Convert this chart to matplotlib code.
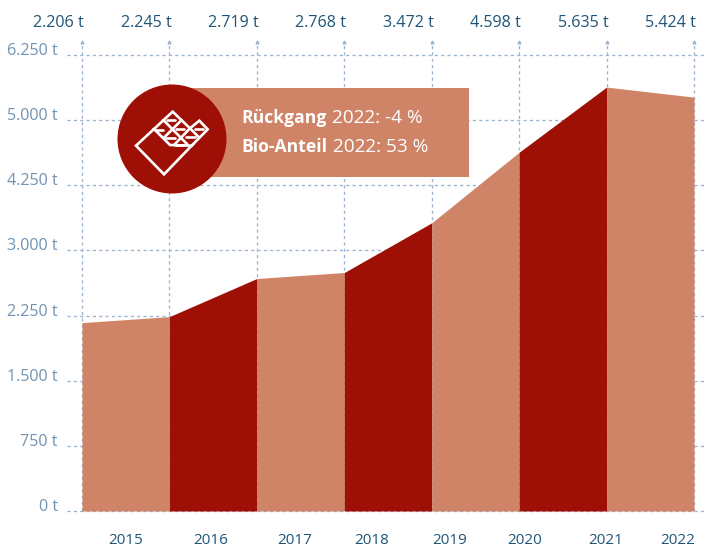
import numpy as np
import matplotlib
matplotlib.use("Agg")
import matplotlib.pyplot as plt
from matplotlib.patches import Circle, Rectangle
from matplotlib.transforms import ScaledTranslation

years = ["2015", "2016", "2017", "2018", "2019", "2020", "2021", "2022"]
top_labels = ["2.206 t", "2.245 t", "2.719 t", "2.768 t", "3.472 t", "4.598 t", "5.635 t", "5.424 t"]
plotted = [2169, 2238, 2677, 2746, 3530, 4631, 5635, 5442]
y_ticks = [0, 750, 1500, 2250, 3000, 4250, 5000, 6250]
y_labels = ["0 t", "750 t", "1.500 t", "2.250 t", "3.000 t", "4.250 t", "5.000 t", "6.250 t"]

LIGHT = "#CF8468"
DARK = "#9E1005"
GRID = "#9DB4CF"
TICKC = "#7093B3"
NAVY = "#1F5578"
FONT = "Open Sans"

W, H = 705, 552
fig = plt.figure(figsize=(W / 100, H / 100), dpi=100)
ax = fig.add_axes([0, 0, 1, 1])

# y axis: equally spaced ticks for unequal steps
knots = np.array(y_ticks + [7500], dtype=float)
idx = np.arange(len(knots), dtype=float)
ax.set_yscale("function", functions=(lambda v: np.interp(v, knots, idx),
                                     lambda u: np.interp(u, idx, knots)))

# axes box mapped to pixels: x index 0..7 -> 82..694, y ticks 511..55
L, R, B, T = 67, 705, 511, 42
ax.set_position([L / W, 1 - B / H, (R - L) / W, (B - T) / H])
ppu = (694 - 82) / 7
ax.set_xlim(-(82 - L) / ppu, 7 + (R - 694) / ppu)
ax.set_ylim(0, 6250 + 13 / 65 * 1250)
for s in ax.spines.values():
    s.set_visible(False)
ax.patch.set_alpha(0)

dash = (0, (2.4, 2.4))
x = np.arange(len(years))
for v in y_ticks:
    ax.axhline(v, color=GRID, lw=0.95, ls=dash, zorder=1, clip_on=False)
for xi in x:
    ax.axvline(xi, color=GRID, lw=0.95, ls=dash, zorder=1)
ax.plot(x, [ax.get_ylim()[1]] * len(x), ls="none", marker="^", ms=2.0, color=GRID, zorder=1, clip_on=False)

for i in range(len(x) - 1):
    ax.fill_between(x[i:i + 2], 0, plotted[i:i + 2], color=DARK if i % 2 else LIGHT, lw=0, zorder=2)

ax.set_xticks([])
ax.set_yticks(y_ticks)
ax.set_yticklabels(y_labels)
ax.minorticks_off()
ax.tick_params(axis="y", length=0, pad=6.5, labelsize=11.6, labelcolor=TICKC)
for t in ax.get_yticklabels():
    t.set_fontfamily(FONT)
    t.set_transform(t.get_transform() + ScaledTranslation(0, 6 / 72 * 0.72, fig.dpi_scale_trans))


def px(xp, yp):
    return xp / W, 1 - yp / H


for xi, lab in zip(x, top_labels):
    fx = (82 + xi * ppu + 2) / W
    fig.text(fx, 1 - 23 / H, lab, ha="right", va="center", color=NAVY, fontsize=11.6, family=FONT)

year_centres = [126, 211, 295, 372, 450, 525, 606, 678]
for c, lab in zip(year_centres, years):
    fig.text(*px(c, 541), lab, ha="center", va="center", color=NAVY, fontsize=11.0, family=FONT)

# info box on a full-figure overlay in pixel coordinates
ov = fig.add_axes([0, 0, 1, 1], zorder=5)
ov.set_xlim(0, W)
ov.set_ylim(H, 0)
ov.axis("off")
ov.add_patch(Rectangle((172, 88), 297, 89, color=LIGHT, lw=0))
ov.add_patch(Circle((172, 139), 54.5, color=DARK, lw=0))


def z(pts):
    a = np.array(pts, float)
    return 100 + a[:, 0] / 3, 75 + a[:, 1] / 3


icon = [
    [(162, 162), (108, 212), (192, 298), (275, 212), (210, 210), (162, 162), (218, 110), (270, 160), (298, 137), (323, 163), (275, 212)],
    [(190, 135), (262, 208)],
    [(245, 135), (192, 188)],
    [(270, 160), (224, 208)],
    [(270, 160), (296, 186)],
    [(202, 136), (224, 136)],
    [(168, 164), (190, 164)],
    [(228, 162), (252, 162)],
    [(198, 188), (224, 188)],
    [(258, 186), (284, 186)],
    [(225, 210), (250, 210)],
    [(286, 162), (308, 162)],
]
for seg in icon:
    xs, ys = z(seg)
    ov.plot(xs, ys, color="white", lw=1.9, solid_capstyle="round", solid_joinstyle="miter")

for yp, bold, rest in [(118, "Rückgang", " 2022: -4 %"), (147, "Bio-Anteil", " 2022: 53 %")]:
    t = ov.text(241, yp, bold, color="white", fontsize=12.6, fontweight="bold", family=FONT, va="center", ha="left")
    fig.canvas.draw()
    bb = t.get_window_extent()
    ov.text(bb.x1 + 6, yp, rest.strip(), color="white", fontsize=13.7, family=FONT, va="center", ha="left")

fig.savefig("out.png", dpi=100, facecolor="white")
